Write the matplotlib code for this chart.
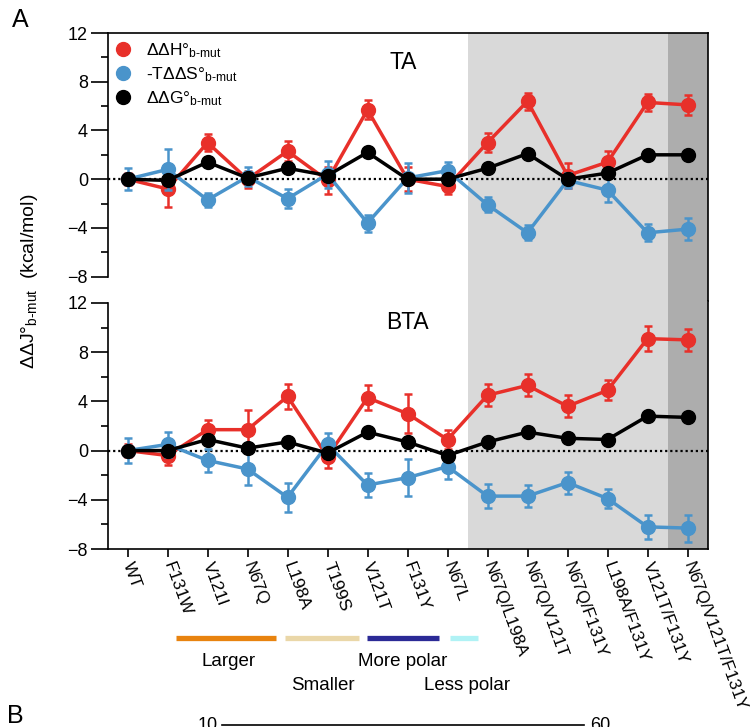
import numpy as np
import matplotlib.pyplot as plt
from matplotlib.lines import Line2D

plt.rcParams['font.family'] = ['Liberation Sans', 'DejaVu Sans']
plt.rcParams['mathtext.fontset'] = 'custom'
plt.rcParams['mathtext.rm'] = 'Liberation Sans'
plt.rcParams['mathtext.it'] = 'Liberation Sans:italic'

mutants = ["WT", "F131W", "V121I", "N67Q", "L198A", "T199S", "V121T", "F131Y", "N67L",
           "N67Q/L198A", "N67Q/V121T", "N67Q/F131Y", "L198A/F131Y", "V121T/F131Y",
           "N67Q/V121T/F131Y"]

# TA panel (kcal/mol)
ta_dH = [0.0, -0.8, 3.0, 0.0, 2.3, -0.1, 5.7, 0.0, -0.6, 3.0, 6.4, 0.3, 1.4, 6.3, 6.1]
ta_dH_err = [0.5, 1.5, 0.7, 0.7, 0.8, 1.1, 0.8, 1.0, 0.6, 0.8, 0.7, 1.0, 0.9, 0.7, 0.8]
ta_TdS = [0.0, 0.8, -1.7, 0.2, -1.6, 0.4, -3.6, 0.1, 0.7, -2.1, -4.4, -0.1, -0.9, -4.4, -4.1]
ta_TdS_err = [0.9, 1.7, 0.6, 0.8, 0.8, 1.1, 0.7, 1.2, 0.7, 0.6, 0.6, 0.6, 1.0, 0.7, 0.9]
ta_dG = [0.0, -0.1, 1.4, 0.1, 0.9, 0.3, 2.2, 0.0, 0.0, 0.9, 2.1, 0.0, 0.5, 2.0, 2.0]

# BTA panel (kcal/mol)
bta_dH = [0.0, -0.4, 1.7, 1.7, 4.4, -0.5, 4.3, 3.0, 0.9, 4.5, 5.3, 3.6, 4.9, 9.1, 9.0]
bta_dH_err = [0.5, 0.8, 0.8, 1.6, 1.0, 0.9, 1.0, 1.6, 0.8, 0.9, 0.9, 0.9, 0.8, 1.0, 0.9]
bta_TdS = [0.0, 0.5, -0.8, -1.5, -3.8, 0.5, -2.8, -2.2, -1.3, -3.7, -3.7, -2.6, -3.9, -6.2, -6.3]
bta_TdS_err = [1.0, 1.0, 0.9, 1.3, 1.2, 0.9, 1.0, 1.5, 1.0, 1.0, 0.9, 0.9, 0.8, 1.0, 1.1]
bta_dG = [0.0, 0.0, 0.9, 0.2, 0.7, -0.2, 1.5, 0.7, -0.4, 0.7, 1.5, 1.0, 0.9, 2.8, 2.7]

RED = '#e8302a'
BLUE = '#4a94cb'
W, H = 751, 727

fig = plt.figure(figsize=(W / 100, H / 100), dpi=100)
ax_top = fig.add_axes([107.5 / W, 1 - 301 / H, 600 / W, 268 / H])
ax_bot = fig.add_axes([107.5 / W, 1 - 549 / H, 600 / W, 248 / H])


def draw(ax, dH, dH_err, TdS, TdS_err, dG):
    x = np.arange(len(mutants))
    ax.axvspan(8.5, 13.5, color='#d9d9d9', lw=0, zorder=0)
    ax.axvspan(13.5, 14.5, color='#adadad', lw=0, zorder=0)
    ax.axhline(0, color='k', ls=(0, (1, 1.3)), lw=1.6, zorder=1)
    kw = dict(lw=2.5, marker='o', ms=10, capsize=3.2, elinewidth=1.8, capthick=1.8)
    ax.errorbar(x, dH, yerr=dH_err, color=RED, zorder=3, **kw)
    ax.errorbar(x, TdS, yerr=TdS_err, color=BLUE, zorder=4, **kw)
    ax.plot(x, dG, color='k', lw=2.5, marker='o', ms=10, zorder=5)
    ax.set_xlim(-0.5, 14.5)
    ax.set_yticks([-8, -4, 0, 4, 8, 12])
    ax.set_yticks([-6, -2, 2, 6, 10], minor=True)
    ax.tick_params(axis='y', which='major', length=12, width=1.2, labelsize=13, pad=2)
    ax.tick_params(axis='y', which='minor', length=5, width=1.2)
    ax.spines['left'].set_bounds(-8, 12)
    for s in ax.spines.values():
        s.set_linewidth(1.2)


draw(ax_top, ta_dH, ta_dH_err, ta_TdS, ta_TdS_err, ta_dG)
draw(ax_bot, bta_dH, bta_dH_err, bta_TdS, bta_TdS_err, bta_dG)

ax_top.set_ylim(-10, 12)
ax_bot.set_ylim(-8, 12.16)
ax_top.spines['bottom'].set_visible(False)
ax_bot.spines['top'].set_visible(False)
ax_top.tick_params(axis='x', bottom=False, labelbottom=False)

ax_bot.set_xticks(np.arange(len(mutants)))
ax_bot.set_xticklabels(mutants, rotation=-70, ha='left', va='center',
                       rotation_mode='anchor', fontsize=12.5)
ax_bot.tick_params(axis='x', length=6, width=1.2, pad=4)

ax_top.text(6.9, 9.6, 'TA', fontsize=16.5, ha='center', va='center')
ax_bot.text(7.0, 10.4, 'BTA', fontsize=16.5, ha='center', va='center')

sub = r'$_{\mathrm{b\text{-}mut}}$'
handles = [Line2D([], [], ls='none', marker='o', ms=10, color=c) for c in (RED, BLUE, 'k')]
labels = ['ΔΔH°' + sub, '-TΔΔS°' + sub, 'ΔΔG°' + sub]
ax_top.legend(handles, labels, loc='upper left', bbox_to_anchor=(-0.003, 0.995), borderaxespad=0,
              frameon=False, fontsize=12.5, handlelength=1.2, handletextpad=0.7,
              labelspacing=0.3)

fig.text(30 / W, 1 - 281 / H, 'ΔΔJ°' + sub + '  (kcal/mol)', rotation=90,
         fontsize=14, ha='center', va='center')

fig.text(12 / W, 1 - 27 / H, 'A', fontsize=18, va='baseline')
fig.text(7 / W, 1 - 723 / H, 'B', fontsize=18, va='baseline')

# property legend under the x labels
bars = [(176, 276, '#e8830f'), (285, 359, '#ead7a8'), (367, 439, '#2b2a96'), (450, 478, '#b0f2f5')]
for x0, x1, c in bars:
    fig.add_artist(Line2D([x0 / W, x1 / W], [1 - 638 / H] * 2, transform=fig.transFigure,
                          color=c, lw=3.8, solid_capstyle='butt'))
fig.text(229 / W, 1 - 661 / H, 'Larger', fontsize=13.5, ha='center', va='center')
fig.text(403 / W, 1 - 661 / H, 'More polar', fontsize=13.5, ha='center', va='center')
fig.text(323 / W, 1 - 686 / H, 'Smaller', fontsize=13.5, ha='center', va='center')
fig.text(467 / W, 1 - 686 / H, 'Less polar', fontsize=13.5, ha='center', va='center')

# start of panel B (cut off at the bottom)
fig.text(218 / W, 1 - 730 / H, '10', fontsize=13, ha='right', va='baseline')
fig.text(590 / W, 1 - 730 / H, '60', fontsize=13, ha='left', va='baseline')
fig.add_artist(Line2D([222 / W, 584 / W], [1 - 725 / H] * 2, transform=fig.transFigure,
                      color='k', lw=1.2))

fig.savefig('out.png', dpi=100)
